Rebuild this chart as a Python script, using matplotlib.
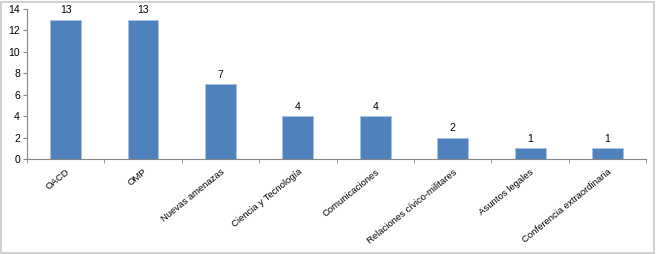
import matplotlib.pyplot as plt
from matplotlib.patches import Rectangle
import numpy as np

plt.rcParams['font.family'] = ['Liberation Sans', 'DejaVu Sans']

categorias = ['OACD', 'OMP', 'Nuevas amenazas', 'Ciencia y Tecnología',
              'Comunicaciones', 'Relaciones cívico-militares',
              'Asuntos legales', 'Conferencia extraordinaria']
valores = [13, 13, 7, 4, 4, 2, 1, 1]

fig = plt.figure(figsize=(6.56, 2.54), dpi=100)
ax = fig.add_axes([0.041, 0.374, 0.944, 0.591])

x = np.arange(len(categorias))
barras = ax.bar(x, valores, width=0.4, color='#4F81BD',
                edgecolor='#a9c1e0', linewidth=0.6)
for xi, v in zip(x, valores):
    ax.text(xi, v + 0.4, str(v), ha='center', va='bottom', fontsize=7.5)

ax.set_xlim(-0.5, len(categorias) - 0.5)
ax.set_ylim(0, 14)
ax.set_yticks(range(0, 15, 2))
ax.tick_params(axis='y', labelsize=7.5, length=3, color='#868686', pad=2)

ax.set_xticks(x)
ax.set_xticklabels(categorias, rotation=39, ha='right', rotation_mode='anchor',
                   fontsize=6.8)
ax.tick_params(axis='x', length=0, pad=6)
ax.set_xticks(np.arange(-0.5, len(categorias)), minor=True)
ax.tick_params(axis='x', which='minor', length=3, color='#868686')

for s in ['top', 'right']:
    ax.spines[s].set_visible(False)
for s in ['left', 'bottom']:
    ax.spines[s].set_color('#868686')
    ax.spines[s].set_linewidth(0.8)

fig.patches.append(Rectangle((0.002, 0.004), 0.995, 0.99, transform=fig.transFigure,
                             fill=False, edgecolor='#c8c8c8', linewidth=1.2))

fig.savefig('out.png', dpi=100)
